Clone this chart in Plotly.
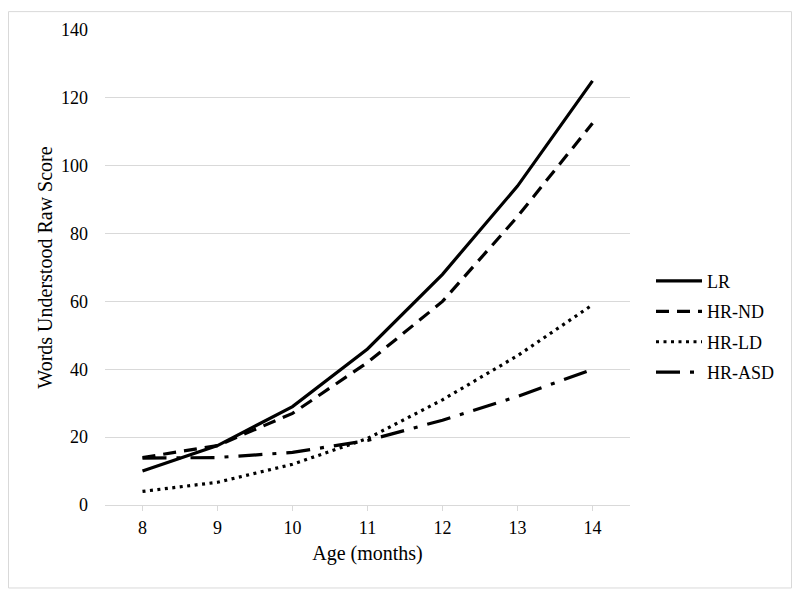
import plotly.graph_objects as go

ages = [8, 9, 10, 11, 12, 13, 14]
lr = [10, 17.5, 29, 46, 68, 94, 125]
hr_nd = [14, 17.5, 27, 42, 60, 85, 112.5]
hr_ld = [4, 6.7, 12, 19.6, 31, 44, 59]
hr_asd = [13.8, 14, 15.5, 19, 25, 32, 40]

series = [
    ("LR", lr, "solid"),
    ("HR-ND", hr_nd, "13px,8px"),
    ("HR-LD", hr_ld, "3px,4.5px"),
    ("HR-ASD", hr_asd, "24px,10px,4px,10px"),
]

FONT = "Liberation Serif, Times New Roman, serif"
W, H = 784, 581
L, R, T, B = 97, 162, 19, 84
PW, PH = W - L - R, H - T - B

fig = go.Figure()
for i, (name, vals, dash) in enumerate(series):
    fig.add_trace(go.Scatter(
        x=ages, y=vals, name=name, mode="lines",
        legendgroup=f"g{i}",
        line=dict(color="black", width=3.2, dash=dash),
    ))

fig.update_layout(
    width=W, height=H,
    margin=dict(l=L, r=R, t=T, b=B),
    paper_bgcolor="white", plot_bgcolor="white",
    font=dict(family=FONT, size=18, color="black"),
    showlegend=True,
    legend=dict(x=1.04, y=0.51, xanchor="left", yanchor="top",
                font=dict(family=FONT, size=18, color="black"),
                tracegroupgap=4, itemwidth=46),
    xaxis=dict(
        range=[7.5, 14.5], tickvals=ages, ticktext=[str(a) for a in ages],
        showgrid=False, zeroline=False, showline=True,
        linecolor="#d9d9d9", linewidth=1,
        ticks="outside", ticklen=5, tickcolor="#d9d9d9",
        ticklabelstandoff=1,
        title=dict(text="Age (months)", font=dict(family=FONT, size=20), standoff=9),
    ),
    yaxis=dict(
        range=[0, 140], tickvals=[0, 20, 40, 60, 80, 100, 120, 140],
        showgrid=True, gridcolor="#d9d9d9", gridwidth=1,
        zeroline=False, showline=False, ticks="",
        ticklabelstandoff=16,
        title=dict(text="Words Understood Raw Score", font=dict(family=FONT, size=20), standoff=3),
    ),
)

# figure border
fig.add_shape(type="rect", xref="paper", yref="paper",
              x0=(-L + 0.5) / PW, x1=(PW + R - 0.5) / PW,
              y0=(-B + 0.5) / PH, y1=(PH + T - 0.5) / PH,
              line=dict(color="#d9d9d9", width=1), fillcolor="rgba(0,0,0,0)",
              layer="below")

fig.write_html("out.html")
